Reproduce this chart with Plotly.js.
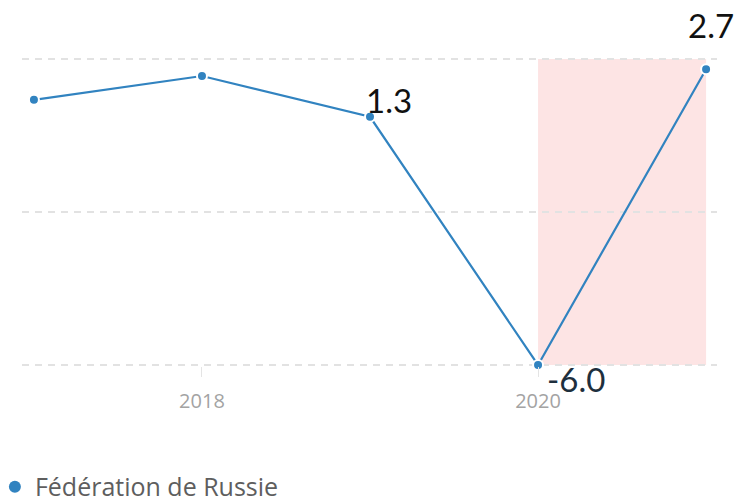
<!DOCTYPE html>
<html>
<head>
<meta charset="utf-8">
<script src="https://cdn.plot.ly/plotly-3.0.1.min.js"></script>
<style>html,body{margin:0;padding:0;background:#fff;}#chart{width:738px;height:498px;}</style>
</head>
<body>
<div id="chart"></div>
<script>
const years = [2017, 2018, 2019, 2020, 2021];
const growth = [1.8, 2.5, 1.3, -6.0, 2.7];
const seriesName = "Fédération de Russie";
const tickYears = [2018, 2020];
const gridValues = [3, -1.5, -6];
const bandYears = [2020, 2021];
const labeledIdx = [2, 3, 4];

const blue = "#3183c0";

const traces = [
  {
    x: years, y: growth, type: "scatter", mode: "lines+markers",
    line: {color: blue, width: 2.2},
    marker: {color: blue, size: 10, line: {color: "#ffffff", width: 2}},
    showlegend: false, cliponaxis: false, hoverinfo: "skip"
  },
  {
    x: [null], y: [null], type: "scatter", mode: "markers",
    name: seriesName,
    marker: {color: blue, size: 12},
    showlegend: true
  }
];

const shifts = {2: [19, 17], 3: [38, -14], 4: [5, 44]};
const colors = {2: "#111111", 3: "#1e2f3d", 4: "#111111"};
const annotations = labeledIdx.map(i => ({
  x: years[i], y: growth[i], xref: "x", yref: "y",
  text: growth[i].toFixed(1), showarrow: false,
  xshift: shifts[i][0], yshift: shifts[i][1],
  font: {family: "Lato, 'Liberation Sans', sans-serif", size: 33, color: colors[i]}
}));

const layout = {
  width: 738, height: 498,
  margin: {l: 22, r: 21, t: 20, b: 132, autoexpand: false},
  paper_bgcolor: "#ffffff", plot_bgcolor: "#ffffff",
  font: {family: "'Open Sans', sans-serif"},
  xaxis: {
    range: [2016.929, 2021.065],
    tickvals: tickYears, ticktext: tickYears.map(String),
    showgrid: false, zeroline: false, showline: false,
    ticks: "outside", ticklen: 10, tickwidth: 1, tickcolor: "#e4e4e4",
    ticklabelstandoff: 7,
    tickfont: {family: "'Open Sans', sans-serif", size: 20, color: "#a3a3a3"}
  },
  yaxis: {
    range: [-6.03, 4.147],
    tickvals: gridValues, showticklabels: false,
    showgrid: true, gridcolor: "#e2e2e2", gridwidth: 2, griddash: "7px,6px",
    zeroline: false, showline: false, ticks: ""
  },
  shapes: [{
    type: "rect", xref: "x", yref: "y",
    x0: bandYears[0], x1: bandYears[1], y0: gridValues[2], y1: gridValues[0],
    fillcolor: "#fde4e4", line: {width: 0}, layer: "below"
  }],
  annotations: annotations,
  showlegend: true,
  legend: {
    orientation: "h", x: -0.039, xanchor: "left", y: -0.283, yanchor: "top",
    font: {family: "'Open Sans', sans-serif", size: 25, color: "#5e5e5e"},
    itemwidth: 30, bgcolor: "rgba(0,0,0,0)"
  }
};

Plotly.newPlot("chart", traces, layout, {displayModeBar: false, staticPlot: true});
</script>
</body>
</html>
